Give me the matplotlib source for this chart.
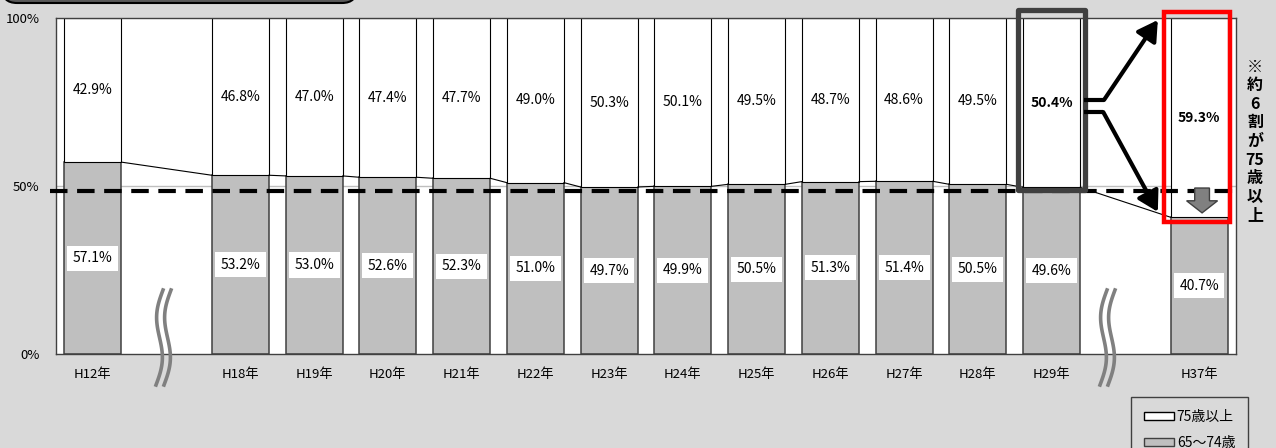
import numpy as np
import matplotlib.pyplot as plt
from matplotlib.patches import FancyBboxPatch, Rectangle, Polygon, Patch
from matplotlib.lines import Line2D

plt.rcParams['font.family'] = ['Noto Sans CJK JP', 'DejaVu Sans']

# -------------------------------------------------
# data (share of elderly, %)
# -------------------------------------------------
years = ['H12年', 'H18年', 'H19年', 'H20年', 'H21年', 'H22年', 'H23年',
         'H24年', 'H25年', 'H26年', 'H27年', 'H28年', 'H29年', 'H37年']
slots = [0, 2, 3, 4, 5, 6, 7, 8, 9, 10, 11, 12, 13, 15]   # 1 and 14 are the breaks
over75 = [42.9, 46.8, 47.0, 47.4, 47.7, 49.0, 50.3, 50.1, 49.5, 48.7, 48.6, 49.5, 50.4, 59.3]
age65_74 = [57.1, 53.2, 53.0, 52.6, 52.3, 51.0, 49.7, 49.9, 50.5, 51.3, 51.4, 50.5, 49.6, 40.7]
bold_years = ['H29年', 'H37年']
note = '※\n約\n6\n割\nが\n75\n歳\n以\n上'

W, H = 1276, 448
BG = '#d9d9d9'
GRAY = '#bfbfbf'

fig = plt.figure(figsize=(W / 100, H / 100), dpi=100, facecolor=BG)
ax = fig.add_axes([56 / W, 1 - 354 / H, 1180 / W, 336 / H])
ax.set_facecolor('white')

bw = 0.775
ax.bar(slots, age65_74, bw, color=GRAY, edgecolor='#404040', lw=1.1, zorder=2)
ax.bar(slots, over75, bw, bottom=age65_74, color='white', edgecolor='black', lw=0.8, zorder=2)

# series lines between the grey segments
for i in range(len(slots) - 1):
    ax.plot([slots[i] + bw / 2, slots[i + 1] - bw / 2], [age65_74[i], age65_74[i + 1]],
            color='black', lw=0.8, zorder=2)

# value labels
for x, lo, hi, yr in zip(slots, age65_74, over75, years):
    wt = 'bold' if yr in bold_years else 'normal'
    ax.text(x, lo / 2, f'{lo:.1f}%', ha='center', va='center', fontsize=10, zorder=4,
            bbox=dict(boxstyle='square,pad=0.4', fc='white', ec='none'))
    ax.text(x, lo + hi / 2, f'{hi:.1f}%', ha='center', va='center', fontsize=10,
            fontweight=wt, zorder=4)

ax.axhline(50, color=GRAY, lw=1, zorder=1)
ax.plot([-0.58, 15.47], [48.6, 48.6], color='black', lw=3, dashes=(4.2, 2.3),
        zorder=5, clip_on=False)

ax.set_xlim(-0.5, 15.5)
ax.set_ylim(0, 100)
ax.set_yticks([0, 50, 100])
ax.set_yticklabels(['0%', '50%', '100%'])
ax.set_xticks(slots)
ax.set_xticklabels(years)
ax.tick_params(axis='both', length=0, labelsize=9.5)
ax.tick_params(axis='x', pad=10)
ax.tick_params(axis='y', pad=12)
for s in ax.spines.values():
    s.set_color('#404040')
    s.set_linewidth(1)

# highlight boxes
ax.add_patch(Rectangle((13 - 0.45, 48.8), 0.9, 53.6, fill=False, ec='#404040', lw=3.8,
                       joinstyle='round', clip_on=False, zorder=6))
ax.add_patch(Rectangle((14.97 - 0.45, 39.3), 0.9, 62.5, fill=False, ec='red', lw=3.2,
                       clip_on=False, zorder=6))

# fork arrows
ax.plot([13.44, 13.71], [75.6, 75.6], color='black', lw=3, zorder=6, solid_capstyle='butt')
ax.plot([13.44, 13.70], [72.0, 72.0], color='black', lw=3, zorder=6, solid_capstyle='butt')
arrow = dict(arrowstyle='-|>,head_length=0.6,head_width=0.35', color='black', lw=3,
             mutation_scale=20, shrinkA=0, shrinkB=0)
ax.annotate('', xy=(14.44, 99.4), xytext=(13.71, 75.6), arrowprops=arrow, zorder=6,
            annotation_clip=False)
ax.annotate('', xy=(14.44, 42.3), xytext=(13.70, 72.0), arrowprops=arrow, zorder=6,
            annotation_clip=False)

# grey down arrow
xc = 15.04
ax.add_patch(Polygon([(xc - 0.1, 49.4), (xc + 0.1, 49.4), (xc + 0.1, 45.6), (xc + 0.21, 45.6),
                      (xc, 42.0), (xc - 0.21, 45.6), (xc - 0.1, 45.6)],
                     closed=True, fc='#808080', ec='#404040', lw=1, zorder=7))

# break marks
t = np.linspace(0, 1, 60)
for xb in (160, 1104):
    xs = xb + 3 - 7 * t - 4.5 * np.sin(2 * np.pi * t)
    ys = 290 + 95 * t
    for off in (0, 8):
        fig.add_artist(Line2D((xs + off) / W, 1 - ys / H, color='#808080', lw=2.6))

# title box cut off at the top
fig.add_artist(FancyBboxPatch((0.02, 4.45), 3.55, 0.6,
                              boxstyle='round,pad=0,rounding_size=0.15',
                              transform=fig.dpi_scale_trans, fc='#595959', ec='black', lw=1.5))

fig.text(1255 / W, 1 - 141 / H, note, ha='center', va='center', fontsize=11.5,
         fontweight='bold', linespacing=1.2)

handles = [Patch(facecolor='white', edgecolor='black', label='75歳以上'),
           Patch(facecolor=GRAY, edgecolor='#404040', label='65～74歳')]
leg = fig.legend(handles=handles, loc='upper left', bbox_to_anchor=(1131 / W, 1 - 397 / H),
                 frameon=True, fancybox=False, edgecolor='#404040', facecolor=BG, framealpha=1,
                 fontsize=10, handlelength=2.2, handleheight=0.5, handletextpad=0.2,
                 labelspacing=0.9, borderpad=0.9, borderaxespad=0)
leg.get_frame().set_linewidth(1.0)

fig.savefig('out.png', dpi=100, facecolor=BG)
